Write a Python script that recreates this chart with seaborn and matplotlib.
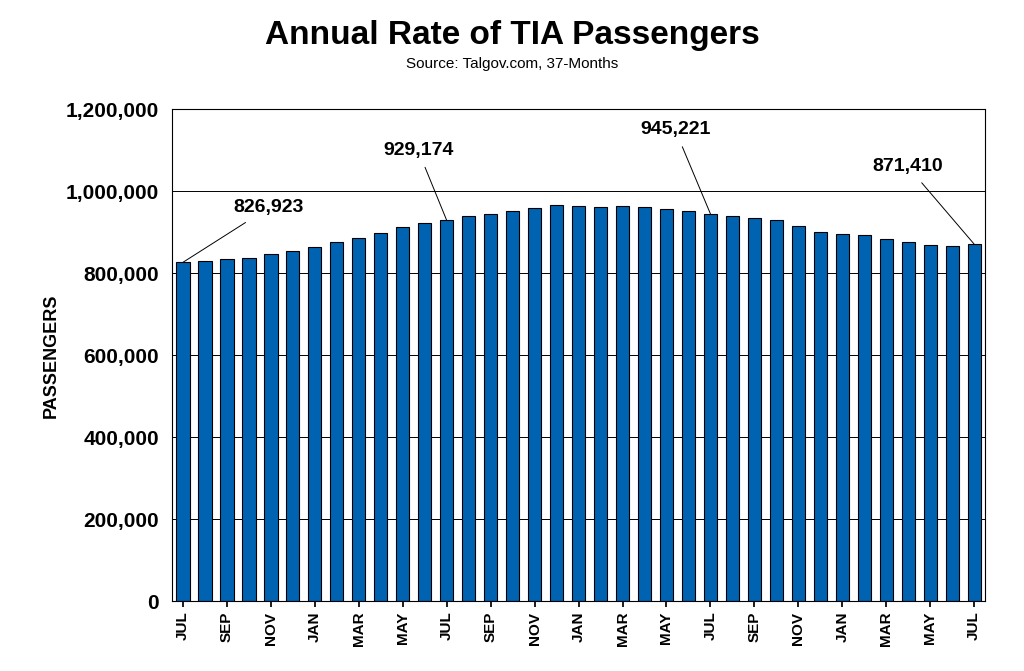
import matplotlib
matplotlib.use("Agg")
import matplotlib.pyplot as plt
import seaborn as sns
import pandas as pd

months = ["JUL","AUG","SEP","OCT","NOV","DEC","JAN","FEB","MAR","APR","MAY","JUN"]*3 + ["JUL"]
values = [826923, 831000, 834000, 838000, 846000, 855000, 863000, 876000, 886000, 898000, 914000, 922000,
          929174, 941000, 944000, 951000, 959000, 967000, 964000, 962000, 964000, 963000, 957000, 951000,
          945221, 940000, 935000, 929000, 915000, 902000, 897000, 893000, 883000, 876000, 870000, 866000,
          871410]
labels_idx = [0, 12, 24, 36]
label_pos = [(2.3, 960000), (12.3, 1100000), (24.0, 1150000), (34.6, 1060000)]

sns.set_theme(style="white")
plt.rcParams['font.family'] = ['Liberation Sans', 'DejaVu Sans']
plt.rcParams['text.color'] = 'black'
plt.rcParams['xtick.color'] = 'black'
plt.rcParams['ytick.color'] = 'black'
plt.rcParams['axes.labelcolor'] = 'black'
df = pd.DataFrame({"i": range(len(values)), "v": values})
fig = plt.figure(figsize=(10.24, 6.71), dpi=100)
ax = fig.add_axes([0.168, 0.104, 0.794, 0.733])
sns.barplot(data=df, x="i", y="v", color="#0063b1", edgecolor="black", linewidth=0.8,
            width=0.6, saturation=1, ax=ax)
ax.set_ylim(0, 1200000)
ax.set_xlim(-0.5, len(values) - 0.5)
ax.set_yticks(range(0, 1200001, 200000))
ax.set_yticklabels([f"{v:,}" for v in range(0, 1200001, 200000)], fontsize=15, fontweight="bold")
ax.set_xticks(range(0, len(values), 2))
ax.set_xticklabels(months[::2], rotation=90, fontsize=11, fontweight="bold")
ax.yaxis.grid(True, color="black", linewidth=0.7)
ax.set_axisbelow(True)
for s in ax.spines.values():
    s.set_color("black"); s.set_linewidth(0.8)
ax.set_xlabel("")
ax.set_ylabel("PASSENGERS", fontsize=13, fontweight="bold")
ax.tick_params(axis="x", length=4, color="black", bottom=True)
for i, (tx, ty) in zip(labels_idx, label_pos):
    ax.annotate(f"{values[i]:,}", xy=(i, values[i]), xytext=(tx, ty), fontsize=14, fontweight="bold",
                ha="left" if i == 0 else "right", va="center",
                arrowprops=dict(arrowstyle="-", color="black", lw=0.7, shrinkA=4, shrinkB=0))
fig.text(0.5, 0.935, "Annual Rate of TIA Passengers", ha="center", fontsize=24, fontweight="bold")
fig.text(0.5, 0.898, "Source: Talgov.com, 37-Months", ha="center", fontsize=11)
fig.savefig("out.png", dpi=100, facecolor="white")
